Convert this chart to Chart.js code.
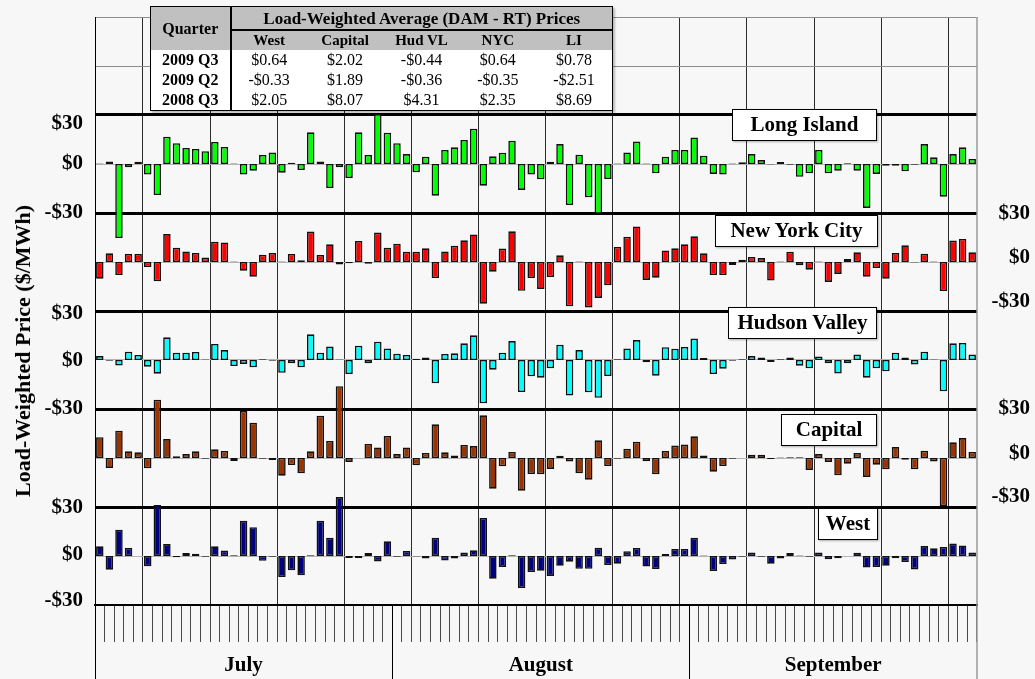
<!DOCTYPE html>
<html>
<head>
<meta charset="utf-8">
<script src="https://cdn.jsdelivr.net/npm/chart.js@4.4.1/dist/chart.umd.min.js"></script>
<style>
  html, body { margin: 0; padding: 0; background: #f7f7f7; }
  #wrap { position: relative; width: 1035px; height: 679px; overflow: hidden; font-family: 'Liberation Serif', 'Times New Roman', serif; }
  #c { position: absolute; left: 0; top: 0; }
  #avgTable { position: absolute; left: 150px; top: 6px; width: 463px; border-collapse: collapse; table-layout: fixed;
              background: #fff; border: 1.5px solid #000; box-shadow: 2px 2px 2px rgba(0,0,0,0.25); color: #000; }
  #avgTable th, #avgTable td { padding: 0; text-align: center; white-space: nowrap; line-height: 1; }
  #avgTable .title { background: #c0c0c0; font-size: 17px; font-weight: bold; height: 22px; border-bottom: 2px solid #000; }
  #avgTable .qcol { background: #c0c0c0; font-size: 16px; font-weight: bold; border-right: 2px solid #000; }
  #avgTable .zone { background: #c0c0c0; font-size: 15px; font-weight: bold; height: 19px; }
  #avgTable .rowhead { font-size: 16px; font-weight: bold; border-right: 2px solid #000; height: 20px; }
  #avgTable td { font-size: 16px; }
  .panelTag { position: absolute; box-sizing: border-box; height: 32px; background: #fff; border: 1.5px solid #000;
              font-size: 21px; font-weight: bold; line-height: 29px; text-align: center; white-space: nowrap;
              box-shadow: 1px 1px 2px rgba(0,0,0,0.3); }
  #yTitle { position: absolute; left: 23px; top: 351px; transform: translate(-50%, -50%) rotate(-90deg);
            font-size: 22px; font-weight: bold; white-space: nowrap; }
</style>
</head>
<body>
<div id="wrap">
  <canvas id="c" width="1035" height="679"></canvas>
  <table id="avgTable"></table>
  <div id="yTitle">Load-Weighted Price ($/MWh)</div>
</div>
<script>
// ---- calendar ----
const months = ['July', 'August', 'September'];
const monthLengths = [31, 31, 30];
const startYear = 2009, startMonth = 6; // July 2009

// ---- daily load-weighted (DAM - RT) price differences, $/MWh ----
const longIsland = [
  0.3, 1.6, -45.3, -2, 1.4, -6.5, -19, 16.7, 12.7, 9.8,
  9.2, 7.8, 13.5, 10.4, 0.3, -6.5, -4.1, 5.5, 7.1, -5.3,
  0.8, -3.7, 19.4, 1.6, -14.7, -2, -8.6, 19.4, 5.5, 30.6,
  19.2, 12.7, 6.1, -5.1, 4.5, -19.4, 8.6, 10.2, 14.7, 21.6,
  -13.3, 4.7, 6.9, 14.3, -15.9, -6.5, -9.4, 1.4, 12.2, -25.1,
  5.7, -20.4, -30.5, -9.2, 0.3, 7.1, 13.7, 0.3, -5.7, 4.5,
  8.6, 8.6, 16.3, 5.1, -6.1, -6.5, 0.3, 1, 6.1, 2.4,
  -0.3, 1.2, -0.5, -7.8, -5.7, 8.6, -5.7, -4.1, 0.4, -4.1,
  -26.9, -6.1, -1, -1, -4.5, -0.5, 12.2, 4.1, -20, 6.1,
  10.2, 3.1
];
const newYorkCity = [
  -10.2, 5.3, -8, 4.9, 4.9, -3.1, -11.8, 17.1, 8.8, 6.5,
  5.5, 2.7, 12.4, 12, 0.3, -5.3, -9, 4.5, 5.5, 0.3,
  4.9, 1, 18.6, 4.3, 10.8, -1.6, -0.8, 12.9, -1, 18,
  8.8, 11.2, 6.3, 6.3, 8.4, -9.8, 6.5, 10, 13.3, 16.9,
  -25.5, -5.9, 8.2, 18.8, -17.6, -9.8, -16.5, -9.2, 4.1, -27.1,
  0.3, -27.8, -22, -14.3, 9.2, 15.5, 21.8, -11, -9.6, 7.1,
  8.4, 10.8, 15.7, 5.3, -8, -8, -1.8, 1.4, 3.1, 2.4,
  -11.4, 0.3, 6.3, -2, -4.7, 0.3, -12.2, -7.3, 1.8, 5.9,
  -9, -3.7, -10.2, 5.5, 10.2, -0.3, 5.1, 0.3, -17.8, 13.1,
  14.1, 5.9
];
const hudsonValley = [
  2.4, -0.5, -3.3, 5.1, 3.1, -4.1, -8.4, 13.9, 4.5, 4.5,
  4.9, 0.3, 9.8, 6.1, -3.7, -2.4, -4.5, 0.5, -0.5, -7.8,
  -2, -4.5, 15.7, 4.5, 8.2, 0.3, -8.6, 8.8, -2, 11.2,
  7.1, 3.9, 3.1, 0.8, 1.6, -14.3, 3.7, 4.1, 10.2, 15.1,
  -26.5, -5.9, 4.5, 11.6, -19.6, -10, -10.8, -5.1, 9.4, -21.8,
  6.1, -19.8, -23.1, -9.8, 0.5, 7.1, 12.2, -1.4, -9.6, 7.8,
  6.9, 8, 13.1, 1.2, -8.6, -5.3, -0.4, 0.4, 2.4, 1.6,
  -1.2, 0.4, 1.6, -3.5, -5.1, 2.2, -2, -8.2, -2, 3.3,
  -10.8, -5.1, -6.9, 4.5, 1.6, -2.7, 5.1, 0.3, -19.2, 10.2,
  10.4, 3.3
];
const capital = [
  12.7, -6.1, 16.7, 4.1, 3.5, -6.3, 35.7, 11.6, 1, 2.4,
  4.1, -0.4, 5.3, 4.3, -1.8, 28.8, 21.6, -0.5, -1.2, -10.8,
  -4.3, -9.4, 4.1, 25.9, 10.4, 44, -2.4, null, 8.6, 6.5,
  13.5, 2.4, 6.5, -4.5, 3.1, 20.6, 3.5, 1.6, 8, 7.3,
  26.1, -18.8, -5.1, 3.7, -20, -9.8, -10, -6.7, 1.4, -2.2,
  -9.4, -13.3, 10.8, -4.9, -0.4, 5.7, 10, -2, -10, 4.3,
  7.6, 8.2, 13.3, 1.6, -8.4, -4.9, -0.5, null, 2, 2,
  -0.6, 0.3, 0.5, 0.4, -7.3, 2.4, -2.4, -10.6, -3.5, 3.1,
  -11.6, -4.1, -6.9, 6.7, -1, -6.9, 4.5, -2.2, -29.5, 9.6,
  12.2, 3.7
];
const west = [
  5.9, -8.4, 16.1, 4.9, null, -6.3, 31.2, 7.3, -0.8, 1.8,
  1.4, -0.4, 5.9, 3.3, 0.4, 21.6, 17.6, -2.9, -0.4, -12.9,
  -8.8, -11.8, 0.4, 21.6, 11.2, 36.1, -1.2, -1.2, 1.8, -3.3,
  9, -0.4, 3.1, -0.3, -1.6, 11.2, -2.7, -1.6, 2.2, 3.5,
  23.3, -13.9, -6.7, 0.4, -19.6, -9.8, -9, -12.2, -5.9, -3.5,
  -7.8, -7.8, 5.1, -5.5, -4.7, 2.9, 4.9, -6.5, -8, 1.2,
  4.3, 4.3, 11.2, 0.3, -9.2, -4.9, -2.2, -0.4, 2.2, -0.5,
  -4.7, -1.6, 1.8, 0.3, -0.5, 2.2, -2, -1.4, null, 2,
  -7.1, -6.7, -5.9, -1.4, -3.7, -8.2, 6.1, 4.7, 5.5, 7.6,
  6.5, 2.2
];

// ---- panels, top to bottom ----
const panelNames = ['Long Island', 'New York City', 'Hudson Valley', 'Capital', 'West'];
const panelSeries = [longIsland, newYorkCity, hudsonValley, capital, west];
const panelColors = ['#00ff00', '#ff0000', '#00ffff', '#993300', '#000080'];
const panelAxisIds = ['yLI', 'yNYC', 'yHV', 'yCap', 'yWest'];

// ---- quarterly summary table ----
const tableTitle = 'Load-Weighted Average (DAM - RT) Prices';
const tableZones = ['West', 'Capital', 'Hud VL', 'NYC', 'LI'];
const quarters = ['2009 Q3', '2009 Q2', '2008 Q3'];
const avg2009Q3 = [0.64, 2.02, -0.44, 0.64, 0.78];
const avg2009Q2 = [-0.33, 1.89, -0.36, -0.35, -2.51];
const avg2008Q3 = [2.05, 8.07, 4.31, 2.35, 8.69];
const quarterRows = [avg2009Q3, avg2009Q2, avg2008Q3];

// ---- axis tick labels (values on the shared left/right reference scale) ----
const leftTickValues = [24.5, 0, -30, -91.5, -120.5, -150, -210.5, -239, -267];
const leftTickLabels = ['$30', '$0', '-$30', '$30', '$0', '-$30', '$30', '$0', '-$30'];
const rightTickValues = [-30.5, -57.5, -84, -149.5, -177, -203.5];
const rightTickLabels = ['$30', '$0', '-$30', '$30', '$0', '-$30'];

// ---- layout of the panel name tags ----
const tagBoxes = [
  { left: 732, top: 109, width: 145 },
  { left: 715, top: 215, width: 163 },
  { left: 728, top: 307, width: 149 },
  { left: 781, top: 414, width: 96 },
  { left: 818, top: 508, width: 60 }
];

// day labels and Monday detection
const dayLabels = [];
const dayDates = [];
months.forEach((m, k) => {
  for (let d = 1; d <= monthLengths[k]; d++) {
    dayLabels.push(m.slice(0, 3) + ' ' + d);
    dayDates.push(new Date(startYear, startMonth + k, d));
  }
});
const nDays = dayLabels.length;

// ---- build the summary table ----
const money = v => (v < 0 ? '-$' : '$') + Math.abs(v).toFixed(2);
(function buildTable() {
  const t = document.getElementById('avgTable');
  let html = '<colgroup><col style="width:80px">' + tableZones.map(() => '<col>').join('') + '</colgroup>';
  html += '<tr><th class="qcol" rowspan="2">Quarter</th><th class="title" colspan="' + tableZones.length + '">' + tableTitle + '</th></tr>';
  html += '<tr>' + tableZones.map(z => '<th class="zone">' + z + '</th>').join('') + '</tr>';
  quarters.forEach((q, r) => {
    html += '<tr><th class="rowhead">' + q + '</th>' + quarterRows[r].map(v => '<td>' + money(v) + '</td>').join('') + '</tr>';
  });
  t.innerHTML = html;
})();

// ---- panel name tags ----
panelNames.forEach((name, k) => {
  const d = document.createElement('div');
  d.className = 'panelTag';
  d.textContent = name;
  d.style.left = tagBoxes[k].left + 'px';
  d.style.top = tagBoxes[k].top + 'px';
  d.style.width = tagBoxes[k].width + 'px';
  document.getElementById('wrap').appendChild(d);
});

// ---- chart ----
const serif = "'Liberation Serif', 'Times New Roman', serif";
Chart.defaults.font.family = serif;

const panelSpan = 60;          // each panel covers -$30 .. $30
const fullSpan = 360;          // whole plot height in $ (two spare bands above)
const axes = {};
panelAxisIds.forEach((id, k) => {
  const max = 90 + panelSpan * k;
  axes[id] = { type: 'linear', display: false, min: max - fullSpan, max: max };
});

// keep tick labels from pushing the plot area inwards
const fixedWidth = w => s => { s.width = w; s.paddingTop = 0; s.paddingBottom = 0; };

// extra strokes below the plot: frame edges, month separators and names
const calendarFrame = {
  id: 'calendarFrame',
  afterDraw(chart) {
    const { ctx, chartArea, scales } = chart;
    const x = scales.x;
    const edge = i => x.getPixelForValue(i - 0.5);
    const bottom = chart.height;
    ctx.save();
    ctx.lineWidth = 1;
    ctx.strokeStyle = '#000';
    ctx.beginPath();
    ctx.moveTo(Math.round(edge(0)) + 0.5, chartArea.top);
    ctx.lineTo(Math.round(edge(0)) + 0.5, bottom);
    ctx.stroke();
    let start = 0;
    const bounds = [0];
    monthLengths.forEach(n => { start += n; bounds.push(start); });
    bounds.slice(1, -1).forEach(b => {
      ctx.beginPath();
      ctx.moveTo(Math.round(edge(b)) + 0.5, chartArea.bottom);
      ctx.lineTo(Math.round(edge(b)) + 0.5, bottom);
      ctx.stroke();
    });
    ctx.strokeStyle = '#9a9a9a';
    ctx.lineWidth = 1.5;
    ctx.beginPath();
    ctx.moveTo(edge(nDays), chartArea.top);
    ctx.lineTo(edge(nDays), bottom);
    ctx.stroke();
    ctx.fillStyle = '#000';
    ctx.font = 'bold 21px ' + serif;
    ctx.textAlign = 'center';
    ctx.textBaseline = 'middle';
    months.forEach((m, k) => {
      const cx = (edge(bounds[k]) + edge(bounds[k + 1])) / 2;
      ctx.fillText(m, cx, chartArea.bottom + 61);
    });
    ctx.restore();
  }
};

new Chart(document.getElementById('c'), {
  type: 'bar',
  data: {
    labels: dayLabels,
    datasets: panelNames.map((name, k) => ({
      label: name,
      data: panelSeries[k],
      yAxisID: panelAxisIds[k],
      backgroundColor: panelColors[k],
      borderColor: '#111',
      borderWidth: 1.6,
      borderSkipped: false,
      grouped: false,
      barPercentage: 0.78,
      categoryPercentage: 1
    }))
  },
  options: {
    responsive: false,
    animation: false,
    events: [],
    layout: { padding: { top: 17, left: 0, right: 5, bottom: 0 } },
    plugins: { legend: { display: false }, tooltip: { enabled: false } },
    scales: {
      x: {
        type: 'category',
        offset: true,
        ticks: { display: false, autoSkip: false },
        grid: {
          offset: true,
          drawOnChartArea: true,
          color: c => {
            if (c.index === undefined || c.index === 0) return 'rgba(0,0,0,0)';
            return dayDates[c.index].getDay() === 1 ? '#2b2b2b' : 'rgba(0,0,0,0)';
          },
          lineWidth: 1,
          tickColor: '#4a4a4a',
          tickLength: 37,
          tickWidth: 1
        },
        border: { display: true, color: '#000', width: 2 },
        afterFit: s => { s.height = 74; s.paddingLeft = 0; s.paddingRight = 0; }
      },
      y: {
        type: 'linear',
        position: 'left',
        min: -270, max: 90,
        afterBuildTicks: s => { s.ticks = leftTickValues.map(v => ({ value: v })); },
        ticks: {
          callback: (v, i) => leftTickLabels[i],
          font: { family: serif, size: 21, weight: 'bold' },
          color: '#000',
          padding: 12,
          autoSkip: false
        },
        grid: { display: false, drawTicks: false },
        border: { display: true, color: '#000', width: 1 },
        afterFit: fixedWidth(95)
      },
      yGrid: {
        type: 'linear',
        position: 'left',
        min: -270, max: 90,
        z: 1,
        ticks: { display: false, stepSize: 30 },
        grid: {
          drawTicks: false,
          color: c => {
            const v = Math.round(c.tick.value);
            if (v >= 60) return '#8c8c8c';
            if ((v - 30) % 60 === 0) return '#000';
            return '#b4b4b4';
          },
          lineWidth: c => {
            const v = Math.round(c.tick.value);
            if (v >= 60) return 1;
            if (v === -270) return 2;
            if ((v - 30) % 60 === 0) return 3;
            return 1;
          }
        },
        border: { display: false },
        afterFit: fixedWidth(0)
      },
      yR: {
        type: 'linear',
        position: 'right',
        min: -270, max: 90,
        afterBuildTicks: s => { s.ticks = rightTickValues.map(v => ({ value: v })); },
        ticks: {
          callback: (v, i) => rightTickLabels[i],
          font: { family: serif, size: 21, weight: 'bold' },
          color: '#000',
          padding: 0,
          crossAlign: 'far',
          autoSkip: false
        },
        grid: { display: false, drawTicks: false },
        border: { display: false },
        afterFit: fixedWidth(53)
      },
      ...axes
    }
  },
  plugins: [calendarFrame]
});
</script>
</body>
</html>
